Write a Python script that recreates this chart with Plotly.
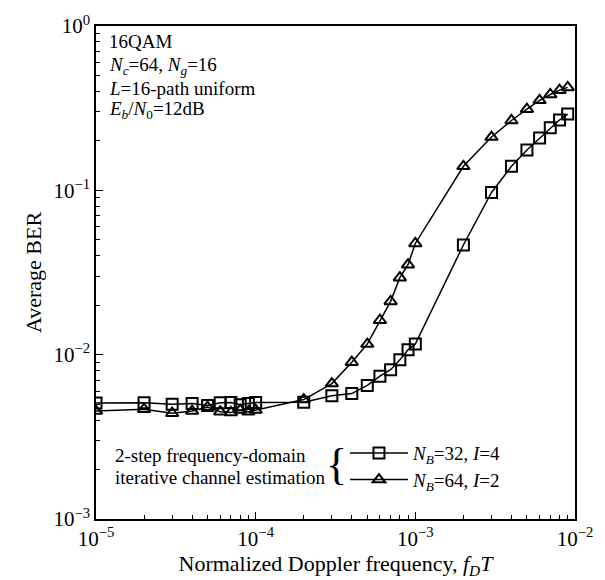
import plotly.graph_objects as go

# Normalized Doppler frequency f_D T
fdT = [1e-5, 2e-5, 3e-5, 4e-5, 5e-5, 6e-5, 7e-5, 8e-5, 9e-5,
       1e-4, 2e-4, 3e-4, 4e-4, 5e-4, 6e-4, 7e-4, 8e-4, 9e-4,
       1e-3, 2e-3, 3e-3, 4e-3, 5e-3, 6e-3, 7e-3, 8e-3, 9e-3]

# N_B=32, I=4 (squares)
ber_nb32 = [5.08e-3, 5.1e-3, 5.0e-3, 5.05e-3, 4.9e-3, 5.1e-3, 5.12e-3, 4.95e-3, 5.05e-3,
            5.12e-3, 5.14e-3, 5.63e-3, 5.8e-3, 6.5e-3, 7.4e-3, 8.1e-3, 9.3e-3, 1.07e-2,
            1.16e-2, 4.65e-2, 9.7e-2, 0.14, 0.176, 0.208, 0.24, 0.268, 0.291]

# N_B=64, I=2 (triangles)
ber_nb64 = [4.54e-3, 4.66e-3, 4.4e-3, 4.54e-3, 4.8e-3, 4.5e-3, 4.45e-3, 4.6e-3, 4.5e-3,
            4.6e-3, 5.33e-3, 6.67e-3, 9.0e-3, 1.16e-2, 1.62e-2, 2.11e-2, 2.94e-2, 3.53e-2,
            4.75e-2, 0.14, 0.211, 0.266, 0.312, 0.353, 0.383, 0.407, 0.423]

# Tick values / labels
x_ticks = [1e-5, 1e-4, 1e-3, 1e-2]
x_ticktext = ["10<sup>\u22125</sup>", "10<sup>\u22124</sup>", "10<sup>\u22123</sup>", "10<sup>\u22122</sup>"]
y_ticks = [1e-3, 1e-2, 1e-1, 1e0]
y_ticktext = ["10<sup>\u22123</sup>", "10<sup>\u22122</sup>", "10<sup>\u22121</sup>", "10<sup>0</sup>"]

SERIF = "Liberation Serif"

fig = go.Figure()
fig.add_trace(go.Scatter(
    x=fdT, y=ber_nb32, mode="lines+markers",
    name="<i>N</i><sub><i>B</i></sub>=32, <i>I</i>=4",
    line=dict(color="black", width=1.5),
    marker=dict(symbol="square-open", size=11, color="black", line=dict(width=2, color="black")),
    legend="legend",
))
fig.add_trace(go.Scatter(
    x=fdT, y=ber_nb64, mode="lines+markers",
    name="<i>N</i><sub><i>B</i></sub>=64, <i>I</i>=2",
    line=dict(color="black", width=1.5),
    marker=dict(symbol="triangle-up-open", size=11, color="black", line=dict(width=2, color="black")),
    legend="legend2",
))

W, H = 605, 580
L, R, T, B = 96, 28, 17, 61
pw, ph = W - L - R, H - T - B

def px(xp):
    return (xp - L) / pw

def py(yp):
    return 1 - (yp - T) / ph

def minor_vals(lo, hi):
    vals = []
    for e in range(lo, hi):
        for m in range(2, 10):
            vals.append(m * 10.0 ** e)
    return vals

axis_common = dict(
    type="log", showline=True, linecolor="black", linewidth=1.5, mirror=True,
    ticks="inside", ticklen=7, tickwidth=1, tickcolor="black",
    showgrid=False, zeroline=False, tickmode="array",
    tickfont=dict(family=SERIF, size=21, color="black"),
)

fig.update_xaxes(range=[-5, -2], tickvals=x_ticks, ticktext=x_ticktext, **axis_common,
                 minor=dict(ticks="inside", ticklen=4, tickwidth=1, tickcolor="black", showgrid=False,
                            tickmode="array", tickvals=minor_vals(-5, -2)),
                 title=dict(text="Normalized Doppler frequency, <i>f</i><sub><i>D</i></sub><i>T</i>",
                            font=dict(family=SERIF, size=22, color="black"), standoff=2))
fig.update_yaxes(range=[-3, 0], tickvals=y_ticks, ticktext=y_ticktext, **axis_common,
                 minor=dict(ticks="inside", ticklen=4, tickwidth=1, tickcolor="black", showgrid=False,
                            tickmode="array", tickvals=minor_vals(-3, 0)),
                 title=dict(text="Average BER", font=dict(family=SERIF, size=22, color="black"), standoff=6))

legend_common = dict(
    bgcolor="rgba(0,0,0,0)", borderwidth=0, xanchor="left", yanchor="middle",
    font=dict(family=SERIF, size=19, color="black"), itemwidth=58,
    tracegroupgap=0,
)

fig.update_layout(
    width=W, height=H,
    margin=dict(l=L, r=R, t=T, b=B),
    paper_bgcolor="white", plot_bgcolor="white",
    showlegend=True,
    legend=dict(x=px(346), y=py(452), **legend_common),
    legend2=dict(x=px(346), y=py(479), **legend_common),
)

ann_font = dict(family=SERIF, size=19, color="black")
info_lines = [
    ("16QAM", 33),
    ("<i>N</i><sub><i>c</i></sub>=64, <i>N</i><sub><i>g</i></sub>=16", 58),
    ("<i>L</i>=16-path uniform", 81),
    ("<i>E</i><sub><i>b</i></sub>/<i>N</i><sub>0</sub>=12dB", 103),
]
for txt, yp in info_lines:
    fig.add_annotation(text=txt, xref="paper", yref="paper", x=px(107), y=py(yp),
                       xanchor="left", yanchor="middle", showarrow=False, font=ann_font, align="left")

fig.add_annotation(text="2-step frequency-domain", xref="paper", yref="paper", x=px(113), y=py(454),
                   xanchor="left", yanchor="middle", showarrow=False, font=ann_font)
fig.add_annotation(text="iterative channel estimation", xref="paper", yref="paper", x=px(113), y=py(477),
                   xanchor="left", yanchor="middle", showarrow=False, font=ann_font)
fig.add_annotation(text="{", xref="paper", yref="paper", x=px(338), y=py(463),
                   xanchor="center", yanchor="middle", showarrow=False,
                   font=dict(family=SERIF, size=44, color="black"))

fig.write_html("out.html")
